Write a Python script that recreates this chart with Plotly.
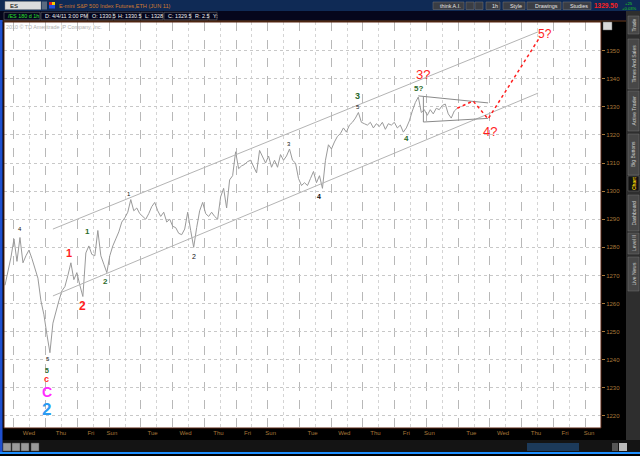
import plotly.graph_objects as go

# ---------------- data ----------------
# hourly price samples (ES futures)
prices = [
    1266.5, 1271, 1276.5, 1283, 1275, 1283.5, 1274.5, 1277, 1279, 1276,
    1272, 1269, 1261, 1256, 1249, 1242.5, 1253, 1257.5, 1261, 1264.5,
    1266, 1270, 1274.5, 1268.5, 1271, 1266.5, 1262.5, 1278, 1280.5, 1277.5,
    1277, 1286, 1277, 1274, 1271, 1277, 1280.5, 1283, 1285.5, 1289,
    1290.5, 1292.5, 1297, 1293, 1294, 1292, 1291, 1290, 1292, 1294.5,
    1296, 1293, 1291, 1292.5, 1289, 1290, 1287.5, 1287, 1285, 1284.5,
    1286.5, 1292.5, 1286, 1280, 1287, 1293, 1296, 1292, 1291, 1292.5,
    1291, 1290, 1298, 1301, 1294, 1304, 1305.5, 1314, 1308, 1309,
    1309.5, 1310.5, 1311, 1309, 1306.5, 1314.5, 1312, 1310, 1312.5, 1308.5,
    1311, 1308.5, 1313, 1311, 1312.5, 1315, 1311, 1310, 1304.5, 1302,
    1303, 1302, 1304.5, 1307, 1303, 1305.5, 1301, 1311, 1316.5, 1315,
    1317.5, 1319.5, 1320.5, 1322.5, 1321, 1323.5, 1324.5, 1326, 1328, 1324.5,
    1324, 1323.5, 1324.5, 1322.5, 1324, 1323, 1324.5, 1322, 1324, 1323.5,
    1324.5, 1322.5, 1323.5, 1321, 1322.5, 1325, 1328.5, 1331.5, 1333.5, 1328,
    1329, 1327, 1329, 1327.5, 1329.5, 1329, 1330.5, 1331, 1327.5, 1326,
    1328.5, 1329.5,
]
bar_index = list(range(len(prices)))

day_labels = ["Wed", "Thu", "Fri", "Sun", "Tue", "Wed", "Thu", "Fri", "Sun", "Tue",
              "Wed", "Thu", "Fri", "Sun", "Tue", "Wed", "Thu", "Fri", "Sun"]
day_pos = [8, 18.7, 28.7, 35.7, 49.3, 60.3, 71.3, 81, 88.7, 102.7,
           113.3, 123.7, 134, 141.7, 155.7, 166.3, 177.3, 187, 195]

price_ticks = [1220, 1230, 1240, 1250, 1260, 1270, 1280, 1290,
               1300, 1310, 1320, 1330, 1340, 1350]

channel_x = [16, 178]
channel_upper = [1286.5, 1356.7]
channel_lower = [1262.7, 1334.9]

tri_upper_x = [138, 161.3]
tri_upper_y = [1333.9, 1331.4]
tri_lower_x = [139.7, 139.7, 161.3]
tri_lower_y = [1333.6, 1324.6, 1325.9]

proj_x = [151, 156.3, 161.3, 178.7]
proj_y = [1329.5, 1332.1, 1325.7, 1355]

RED, GRN, BLK, MAG, BLU = "#ff1e1e", "#2b6a2b", "#111111", "#ff2cff", "#2a9bf2"
wave_labels = [
    ("4", 5, 1286.6, BLK, 6, False),
    ("5", 14.3, 1240.2, BLK, 6, False),
    ("5", 14, 1236.3, GRN, 7, True),
    ("c", 14, 1233.3, RED, 9, True),
    ("C", 14, 1228.4, MAG, 14, True),
    ("2", 14, 1222.4, BLU, 17, True),
    ("1", 21.3, 1278, RED, 11, True),
    ("2", 26, 1259.1, RED, 12, True),
    ("1", 27.7, 1285.5, GRN, 8, True),
    ("2", 33.7, 1268, GRN, 8, True),
    ("1", 41.3, 1299, BLK, 6, False),
    ("2", 63, 1276.6, BLK, 7, False),
    ("3", 94.7, 1316.8, BLK, 6, False),
    ("4", 105, 1298, BLK, 7, True),
    ("3", 117.7, 1333.9, GRN, 9, True),
    ("5", 117.7, 1330, BLK, 6, False),
    ("4", 134, 1318.6, GRN, 8, True),
    ("5?", 138, 1336.7, GRN, 8, True),
    ("3?", 139.7, 1341.4, RED, 13, False),
    ("4?", 162, 1321.1, RED, 13, False),
    ("5?", 180.3, 1355.9, RED, 12, False),
]

# ---------------- figure ----------------
L, R, T, B = 4, 601, 22, 428
def px(x):
    return (x - L) / (R - L)
def py(y):
    return (B - y) / (B - T)

FONT = "Liberation Sans"
AXC = "#a8783a"

fig = go.Figure()
fig.add_trace(go.Scatter(x=bar_index, y=prices, mode="lines",
                         line=dict(color="#9a9a9a", width=1), hoverinfo="skip"))
for ys in (channel_upper, channel_lower):
    fig.add_trace(go.Scatter(x=channel_x, y=ys, mode="lines",
                             line=dict(color="#b4b4b4", width=1), hoverinfo="skip"))
fig.add_trace(go.Scatter(x=tri_upper_x, y=tri_upper_y, mode="lines",
                         line=dict(color="#8a8a8a", width=1), hoverinfo="skip"))
fig.add_trace(go.Scatter(x=tri_lower_x, y=tri_lower_y, mode="lines",
                         line=dict(color="#8a8a8a", width=1), hoverinfo="skip"))
fig.add_trace(go.Scatter(x=proj_x, y=proj_y, mode="lines",
                         line=dict(color=RED, width=1.5, dash="dot"), hoverinfo="skip"))
# carrier for the day-label axis
fig.add_trace(go.Scatter(x=[day_pos[0]], y=[price_ticks[0]], xaxis="x2", mode="markers",
                         marker=dict(opacity=0), hoverinfo="skip"))

annotations = []
for txt, xk, yv, col, sz, bold in wave_labels:
    annotations.append(dict(x=xk, y=yv, xref="x", yref="y", showarrow=False,
                            text=f"<b>{txt}</b>" if bold else txt,
                            font=dict(family=FONT, size=sz, color=col)))

shapes = []
def rect(x0, y0, x1, y1, fill, line=None, lw=0):
    shapes.append(dict(type="rect", xref="paper", yref="paper", layer="above",
                       x0=px(x0), x1=px(x1), y0=py(y1), y1=py(y0), fillcolor=fill,
                       line=dict(color=line or fill, width=lw)))
def text(x, y, s, col, size, anchor="left", angle=0, bold=False):
    annotations.append(dict(x=px(x), y=py(y), xref="paper", yref="paper", showarrow=False,
                            xanchor=anchor, yanchor="middle", textangle=angle,
                            text=f"<b>{s}</b>" if bold else s,
                            font=dict(family=FONT, size=size, color=col)))

# plot border
shapes.append(dict(type="rect", xref="paper", yref="paper", x0=0, x1=1, y0=0, y1=1,
                   line=dict(color="#5a2412", width=1), layer="above"))

# top title bar
rect(0, 0, 640, 11, "#0f2a55")
rect(5, 1.5, 41, 9.5, "#dcdcdc", "#888", 0.5)
text(8, 5.5, "ES", "#000", 6)
rect(42, 1.5, 47, 9.5, "#5a6a80")
rect(49, 2, 52, 5, "#e02020")
rect(52, 2, 55, 5, "#f0d000")
rect(49, 5, 55, 8.5, "#2050e0")
text(57, 5.5, "E-mini S&P 500 Index Futures,ETH (JUN 11)", "#d07a30", 5.6)

buttons = [("think A.I.", 433, 464), ("", 466, 474), ("", 475, 483), ("1h", 486, 500),
           ("Style", 503, 525), ("Drawings", 527, 561), ("Studies", 563, 591)]
for lab, x0, x1 in buttons:
    rect(x0, 2, x1, 9.5, "#3a3d44", "#777", 0.5)
    if lab:
        text((x0 + x1) / 2 + 2, 5.8, lab, "#e6e6e6", 5.4, anchor="center")
text(606, 5.8, "1329.50", "#ff2020", 6.5, anchor="center", bold=True)
text(629, 3.2, "+25", "#20d020", 4.2, anchor="center")
text(629, 8.2, "+0.03%", "#20d020", 4.2, anchor="center")

# info bar
rect(0, 11, 640, 21, "#05061c")
rect(0, 20.6, 640, 21.6, "#6a3a18")
info = [("/ES 180 d 1h", 4, 40, "#2ee02e"), ("D: 4/4/11 3:00 PM", 41, 87, "#f0f0f0"),
        ("O: 1330.5", 88, 113, "#f0f0f0"), ("H: 1330.5", 114, 140, "#f0f0f0"),
        ("L: 1328", 141, 163, "#f0f0f0"), ("C: 1329.5", 164, 190, "#f0f0f0"),
        ("R: 2.5", 191, 208, "#f0f0f0"), ("Y:", 209, 217, "#f0f0f0")]
for lab, x0, x1, col in info:
    rect(x0, 12.3, x1, 19.8, "#05061c", "#6a6a6a", 0.6)
    text(x0 + 1.5, 16, lab, col, 5.4)

# copyright
text(4, 27.5, "2010 © TD Ameritrade IP Company, Inc.", "#b0b0b0", 5.4)

# right-side tab column
rect(626, 11, 640, 440, "#2e2e2e")
tabs = [("Trade", 16, 34), ("Times And Sales", 39, 89), ("Active Trader", 91, 131),
        ("Big Buttons", 134, 175), ("Chart", 176, 191), ("Dashboard", 195, 231),
        ("Level II", 233, 254), ("Live News", 257, 291)]
for lab, y0, y1 in tabs:
    hl = lab == "Chart"
    rect(628, y0, 639, y1, "#111111" if hl else "#474747", "#707070", 0.5)
    text(633.6, (y0 + y1) / 2, lab, "#f5d000" if hl else "#d0d0d0", 5,
         anchor="center", angle=-90, bold=hl)
rect(603, 22, 612, 30, "#d8d8d8", "#666", 0.5)

# bottom tool bar
rect(0, 440, 640, 452, "#141414")
for x0 in (3, 12, 21, 31):
    rect(x0, 443, x0 + 8, 451, "#9a9a9a", "#444", 0.5)
rect(527, 443, 579, 451, "#1c3a5a")
rect(612, 443, 618, 451, "#555")
rect(619, 443, 627, 451, "#bbbbbb")
rect(0, 452, 640, 454, "#1e8fff")
rect(0, 20, 2.5, 452, "#1e4fcf")

fig.update_layout(
    width=640, height=456,
    margin=dict(l=4, r=39, t=22, b=28),
    paper_bgcolor="black", plot_bgcolor="white",
    showlegend=False,
    xaxis=dict(range=[-0.33, 199], showgrid=True, gridcolor="#b8b8b8", griddash="dash",
               gridwidth=1, tick0=3, dtick=10.593, showticklabels=False, zeroline=False,
               ticks="", minor=dict(showgrid=True, tick0=8.3, dtick=10.593,
                                    gridcolor="#d4d4d4", griddash="dot")),
    xaxis2=dict(overlaying="x", anchor="y", side="bottom", range=[-0.33, 199],
                tickmode="array", tickvals=day_pos, ticktext=day_labels, showgrid=False,
                zeroline=False, ticks="", tickfont=dict(family=FONT, size=6, color=AXC)),
    yaxis=dict(side="right", range=[1215.7, 1360.2], tickmode="array", tickvals=price_ticks,
               showgrid=True, gridcolor="#c8c8c8", griddash="dot", zeroline=False,
               ticks="outside", ticklen=3, tickcolor=AXC,
               tickfont=dict(family=FONT, size=6, color=AXC)),
    annotations=annotations,
    shapes=shapes,
)

fig.write_html("out.html", config={"displayModeBar": False},
               post_script="document.body.style.margin='0';document.body.style.background='black';")
